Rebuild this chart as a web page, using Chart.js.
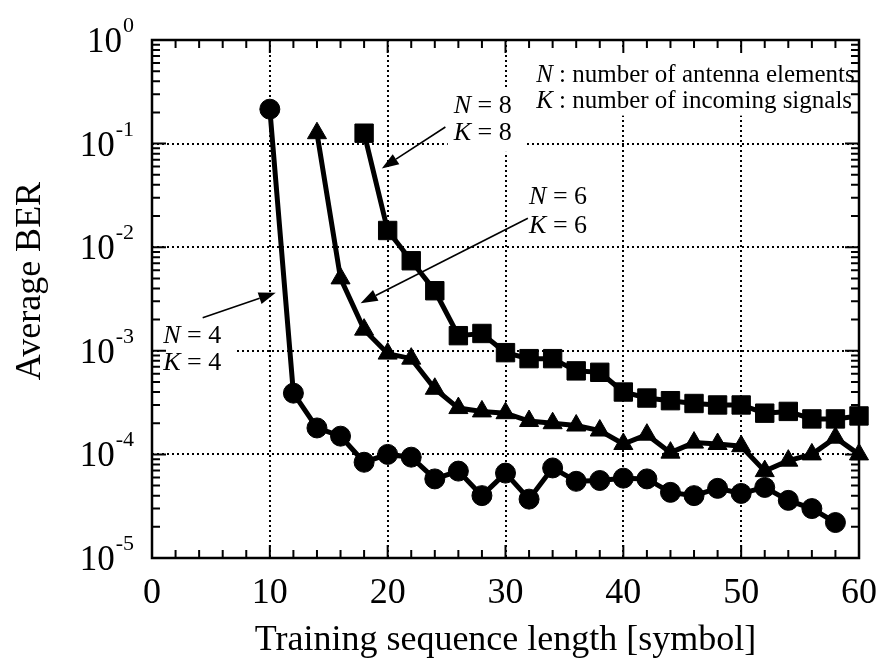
<!DOCTYPE html>
<html lang="en">
<head>
<meta charset="UTF-8" />
<title>Average BER vs training sequence length</title>
<script src="https://cdn.jsdelivr.net/npm/chart.js"></script>
<style>
  html, body { margin: 0; padding: 0; background: #fff; }
  #wrap { width: 882px; height: 669px; }
</style>
</head>
<body>
<div id="wrap"><canvas id="berChart" width="882" height="669"></canvas></div>
<script>
// N = K = 4 (circles)
var xN4 = [10, 12, 14, 16, 18, 20, 22, 24, 26, 28, 30, 32, 34, 36, 38, 40, 42, 44, 46, 48, 50, 52, 54, 56, 58];
var berN4 = [0.215, 3.9e-4, 1.8e-4, 1.5e-4, 8.4e-5, 1.0e-4, 9.4e-5, 5.8e-5, 6.9e-5, 4.0e-5, 6.6e-5, 3.7e-5, 7.4e-5,
             5.5e-5, 5.6e-5, 5.9e-5, 5.8e-5, 4.3e-5, 4.0e-5, 4.7e-5, 4.2e-5, 4.8e-5, 3.6e-5, 3.0e-5, 2.2e-5];

// N = K = 6 (triangles)
var xN6 = [14, 16, 18, 20, 22, 24, 26, 28, 30, 32, 34, 36, 38, 40, 42, 44, 46, 48, 50, 52, 54, 56, 58, 60];
var berN6 = [0.126, 5.0e-3, 1.6e-3, 9.4e-4, 8.4e-4, 4.3e-4, 2.8e-4, 2.6e-4, 2.5e-4, 2.1e-4, 2.0e-4, 1.9e-4,
             1.7e-4, 1.26e-4, 1.55e-4, 1.04e-4, 1.3e-4, 1.26e-4, 1.2e-4, 6.9e-5, 8.7e-5, 1.0e-4, 1.45e-4, 1.0e-4];

// N = K = 8 (squares)
var xN8 = [18, 20, 22, 24, 26, 28, 30, 32, 34, 36, 38, 40, 42, 44, 46, 48, 50, 52, 54, 56, 58, 60];
var berN8 = [0.126, 1.45e-2, 7.4e-3, 3.8e-3, 1.4e-3, 1.47e-3, 9.6e-4, 8.4e-4, 8.4e-4, 6.4e-4, 6.2e-4, 4.0e-4,
             3.5e-4, 3.3e-4, 3.1e-4, 3.0e-4, 3.0e-4, 2.5e-4, 2.6e-4, 2.2e-4, 2.2e-4, 2.35e-4];

// tick labels
var xTicks = [0, 10, 20, 30, 40, 50, 60];
var yDecades = [-5, -4, -3, -2, -1, 0];
var xMinor = [2, 4, 6, 8, 12, 14, 16, 18, 22, 24, 26, 28, 32, 34, 36, 38, 42, 44, 46, 48, 52, 54, 56, 58];
var yMinorMantissa = [2, 3, 4, 5, 6, 7, 8, 9];

var FONT = '"Liberation Serif", "Times New Roman", serif';

// text notes, placed in data units (x, log10 of BER)
var notes = [
  { x: 32.6, e: [-0.41, -0.66], size: 25, lines: [["N", " : number of antenna elements"], ["K", " : number of incoming signals"]], box: [31.9, -0.07, 58.4, -0.73] },
  { x: 25.6, e: [-0.70, -0.97], size: 26, lines: [["N", " = 8"], ["K", " = 8"]], box: [25.1, -0.47, 31.8, -1.08] },
  { x: 32.0, e: [-1.58, -1.86], size: 26, lines: [["N", " = 6"], ["K", " = 6"]], box: [31.5, -1.35, 38.0, -1.93] },
  { x: 0.95, e: [-2.92, -3.19], size: 26, lines: [["N", " = 4"], ["K", " = 4"]], box: [0.7, -2.70, 7.0, -3.27] }
];
var arrows = [
  { from: [24.9, -0.84], to: [19.5, -1.24] },
  { from: [31.9, -1.72], to: [17.7, -2.54] },
  { from: [4.3, -2.68], to: [10.5, -2.44] }
];

function pts(xs, ys) {
  return xs.map(function (x, i) { return { x: x, y: ys[i] }; });
}

function series(xs, ys, style, radius) {
  return {
    data: pts(xs, ys),
    borderColor: "#000",
    backgroundColor: "#000",
    borderWidth: 5,
    pointStyle: style,
    pointRadius: radius,
    pointBackgroundColor: "#000",
    pointBorderColor: "#000",
    pointBorderWidth: 1,
    tension: 0,
    clip: false
  };
}

var framePlugin = {
  id: "frame",
  beforeDatasetsDraw: function (chart) {
    var ctx = chart.ctx, a = chart.chartArea;
    var xs = chart.scales.x, ys = chart.scales.y;
    function py(e) { return ys.getPixelForValue(Math.pow(10, e)); }
    ctx.save();

    // white boxes behind the notes, then the notes
    notes.forEach(function (n) {
      ctx.fillStyle = "#fff";
      var x0 = xs.getPixelForValue(n.box[0]), x1 = xs.getPixelForValue(n.box[2]);
      var y0 = py(n.box[1]), y1 = py(n.box[3]);
      ctx.fillRect(x0, y0, x1 - x0, y1 - y0);
      ctx.fillStyle = "#000";
      ctx.textAlign = "left";
      ctx.textBaseline = "alphabetic";
      n.lines.forEach(function (ln, i) {
        var x = xs.getPixelForValue(n.x), y = py(n.e[i]);
        ctx.font = "italic " + n.size + "px " + FONT;
        ctx.fillText(ln[0], x, y);
        var w = ctx.measureText(ln[0]).width;
        ctx.font = n.size + "px " + FONT;
        ctx.fillText(ln[1], x + w, y);
      });
    });

    // frame
    ctx.strokeStyle = "#000";
    ctx.lineWidth = 2.5;
    ctx.strokeRect(a.left, a.top, a.right - a.left, a.bottom - a.top);

    // inward ticks on all four sides
    ctx.lineWidth = 2;
    ctx.beginPath();
    xMinor.forEach(function (v) {
      var x = xs.getPixelForValue(v);
      ctx.moveTo(x, a.bottom); ctx.lineTo(x, a.bottom - 8);
      ctx.moveTo(x, a.top); ctx.lineTo(x, a.top + 8);
    });
    xTicks.forEach(function (v) {
      var x = xs.getPixelForValue(v);
      ctx.moveTo(x, a.bottom); ctx.lineTo(x, a.bottom - 13);
      ctx.moveTo(x, a.top); ctx.lineTo(x, a.top + 13);
    });
    yDecades.forEach(function (e) {
      var y = py(e);
      ctx.moveTo(a.left, y); ctx.lineTo(a.left + 14, y);
      ctx.moveTo(a.right, y); ctx.lineTo(a.right - 14, y);
      if (e < 0) {
        yMinorMantissa.forEach(function (m) {
          var ym = ys.getPixelForValue(m * Math.pow(10, e));
          ctx.moveTo(a.left, ym); ctx.lineTo(a.left + 8, ym);
          ctx.moveTo(a.right, ym); ctx.lineTo(a.right - 8, ym);
        });
      }
    });
    ctx.stroke();
    ctx.restore();
  },
  afterDatasetsDraw: function (chart) {
    var ctx = chart.ctx, a = chart.chartArea;
    var xs = chart.scales.x, ys = chart.scales.y;
    function py(e) { return ys.getPixelForValue(Math.pow(10, e)); }
    ctx.save();
    ctx.strokeStyle = "#000";
    ctx.fillStyle = "#000";

    // arrows
    arrows.forEach(function (ar) {
      var x0 = xs.getPixelForValue(ar.from[0]), y0 = py(ar.from[1]);
      var x1 = xs.getPixelForValue(ar.to[0]), y1 = py(ar.to[1]);
      var ang = Math.atan2(y1 - y0, x1 - x0), len = 17, half = 6;
      var bx = x1 - len * Math.cos(ang), by = y1 - len * Math.sin(ang);
      ctx.lineWidth = 1.6;
      ctx.beginPath();
      ctx.moveTo(x0, y0); ctx.lineTo(bx, by);
      ctx.stroke();
      ctx.beginPath();
      ctx.moveTo(x1, y1);
      ctx.lineTo(bx + half * Math.sin(ang), by - half * Math.cos(ang));
      ctx.lineTo(bx - half * Math.sin(ang), by + half * Math.cos(ang));
      ctx.closePath();
      ctx.fill();
    });

    // y tick labels: 10 with superscript exponent
    ctx.textAlign = "right";
    ctx.textBaseline = "alphabetic";
    yDecades.forEach(function (e) {
      var y = py(e);
      var exp = e === 0 ? "0" : "-" + Math.abs(e);
      ctx.font = "22px " + FONT;
      var ex = a.left - 18;
      ctx.fillText(exp, ex, y - 8);
      var w = ctx.measureText(exp).width;
      ctx.font = "35px " + FONT;
      ctx.fillText("10", ex - w - 1, y + 12);
    });

    // y axis title
    ctx.translate(31, (a.top + a.bottom) / 2 - 18);
    ctx.rotate(-Math.PI / 2);
    ctx.textAlign = "center";
    ctx.textBaseline = "middle";
    ctx.font = "36px " + FONT;
    ctx.fillText("Average BER", 0, 0);
    ctx.restore();
  }
};

var ctx = document.getElementById("berChart").getContext("2d");
var berChart = new Chart(ctx, {
  type: "line",
  data: {
    datasets: [
      series(xN4, berN4, "circle", 10),
      series(xN6, berN6, "triangle", 11),
      series(xN8, berN8, "rect", 13)
    ]
  },
  options: {
    responsive: false,
    animation: false,
    devicePixelRatio: 1,
    layout: { padding: { top: 40, right: 23, left: 0, bottom: 0 } },
    plugins: { legend: { display: false }, tooltip: { enabled: false } },
    scales: {
      x: {
        type: "linear",
        min: 0,
        max: 60,
        afterBuildTicks: function (scale) {
          scale.ticks = xTicks.map(function (v) { return { value: v }; });
        },
        afterFit: function (scale) {
          scale.height = 111;
          scale.paddingLeft = 0;
          scale.paddingRight = 0;
        },
        ticks: {
          color: "#000",
          padding: 14,
          maxRotation: 0,
          font: { family: FONT, size: 36 }
        },
        grid: { color: "#000", lineWidth: 2, drawTicks: false },
        border: { display: false, dash: [2, 3] },
        title: {
          display: true,
          text: "Training sequence length [symbol]",
          color: "#000",
          font: { family: FONT, size: 36 },
          padding: { top: 0, bottom: 7 }
        }
      },
      y: {
        type: "logarithmic",
        min: 1e-5,
        max: 1,
        afterBuildTicks: function (scale) {
          scale.ticks = yDecades.map(function (e) { return { value: Math.pow(10, e) }; });
        },
        afterFit: function (scale) { scale.width = 152; },
        ticks: { display: false },
        grid: { color: "#000", lineWidth: 2, drawTicks: false },
        border: { display: false, dash: [2, 3] }
      }
    }
  },
  plugins: [framePlugin]
});
</script>
</body>
</html>
